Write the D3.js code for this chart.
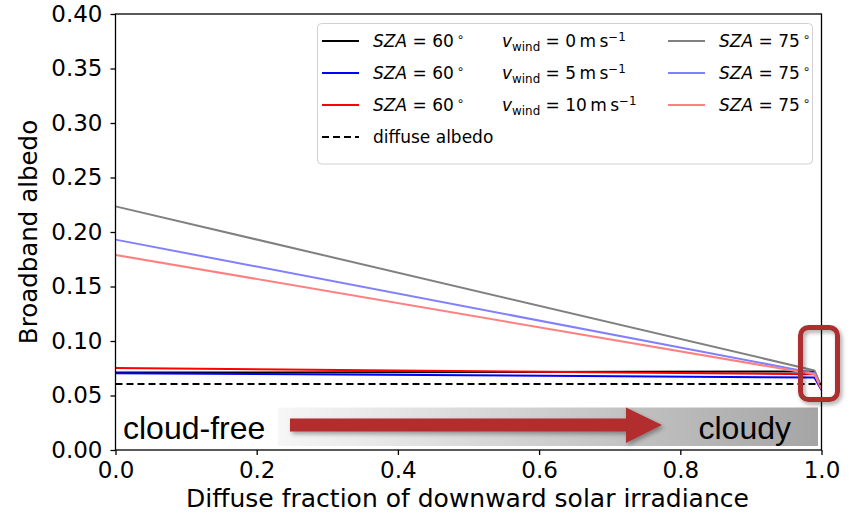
<!DOCTYPE html>
<html>
<head>
<meta charset="utf-8">
<script src="https://cdn.jsdelivr.net/npm/d3@7"></script>
<style>
  body { margin: 0; background: #fff; }
  svg { display: block; }
</style>
</head>
<body>
<svg id="chart" width="854" height="514"></svg>
<script>
// Diffuse fraction of downward solar irradiance (x positions of each series)
const diffuseFraction = [0, 0.99, 1.0];

// Broadband albedo, solar zenith angle 60°
const albedoSza60Wind0  = [0.0710, 0.0720, 0.0570];
const albedoSza60Wind5  = [0.0705, 0.0665, 0.0550];
const albedoSza60Wind10 = [0.0752, 0.0695, 0.0560];

// Broadband albedo, solar zenith angle 75°
const albedoSza75Wind0  = [0.2235, 0.0730, 0.0580];
const albedoSza75Wind5  = [0.1930, 0.0705, 0.0560];
const albedoSza75Wind10 = [0.1790, 0.0695, 0.0560];

// Albedo under purely diffuse illumination
const diffuseAlbedo = 0.0605;

const xTicks = [0, 0.2, 0.4, 0.6, 0.8, 1.0];
const yTicks = [0, 0.05, 0.10, 0.15, 0.20, 0.25, 0.30, 0.35, 0.40];
const windSpeeds = [0, 5, 10];

const svg = d3.select("#chart");
const plotLeft = 115.5, plotRight = 821.5, plotTop = 14, plotBottom = 450;

const x = d3.scaleLinear().domain([0, 1]).range([plotLeft, plotRight]);
const y = d3.scaleLinear().domain([0, 0.4]).range([plotBottom, plotTop]);

const FONT = "DejaVu Sans, sans-serif";

const defs = svg.append("defs");
defs.append("clipPath").attr("id", "plotClip")
  .append("rect").attr("x", plotLeft).attr("y", plotTop)
  .attr("width", plotRight - plotLeft).attr("height", plotBottom - plotTop);

const shadow = defs.append("filter").attr("id", "dropShadow")
  .attr("x", "-20%").attr("y", "-30%").attr("width", "150%").attr("height", "180%");
shadow.append("feDropShadow").attr("dx", 2).attr("dy", 2.5)
  .attr("stdDeviation", 2).attr("flood-color", "#000").attr("flood-opacity", 0.35);

const grad = defs.append("linearGradient").attr("id", "bandGrad")
  .attr("x1", "0%").attr("x2", "100%").attr("y1", "0%").attr("y2", "0%");
grad.append("stop").attr("offset", "0%").attr("stop-color", "#f7f7f7");
grad.append("stop").attr("offset", "100%").attr("stop-color", "#a5a5a5");

// Series lines
const series = [
  { values: albedoSza60Wind0,  color: "#000000" },
  { values: albedoSza60Wind5,  color: "#0000ff" },
  { values: albedoSza60Wind10, color: "#ff0000" },
  { values: albedoSza75Wind0,  color: "#808080" },
  { values: albedoSza75Wind5,  color: "#8080ff" },
  { values: albedoSza75Wind10, color: "#ff8080" }
];

const line = d3.line()
  .x((d, i) => x(diffuseFraction[i]))
  .y(d => y(d));

const plot = svg.append("g").attr("clip-path", "url(#plotClip)");
series.forEach(s => {
  plot.append("path")
    .datum(s.values)
    .attr("d", line)
    .attr("fill", "none")
    .attr("stroke", s.color)
    .attr("stroke-width", 2)
    .attr("stroke-linejoin", "round");
});

plot.append("path")
  .datum([0, 1])
  .attr("d", d3.line().x(d => x(d)).y(() => y(diffuseAlbedo)))
  .attr("fill", "none")
  .attr("stroke", "#000")
  .attr("stroke-width", 2)
  .attr("stroke-dasharray", "7,4");

// Axes
const xAxis = svg.append("g").attr("transform", `translate(0,${plotBottom})`)
  .call(d3.axisBottom(x).tickValues(xTicks).tickFormat(d3.format(".1f"))
    .tickSize(5).tickPadding(7));
const yAxis = svg.append("g").attr("transform", `translate(${plotLeft},0)`)
  .call(d3.axisLeft(y).tickValues(yTicks).tickFormat(d3.format(".2f"))
    .tickSize(5).tickPadding(8));

[xAxis, yAxis].forEach(a => {
  a.select(".domain").remove();
  a.selectAll(".tick line").attr("stroke", "#000").attr("stroke-width", 1.3);
  a.selectAll(".tick text").attr("font-family", FONT).attr("font-size", 23).attr("fill", "#000");
});

// Frame
svg.append("rect")
  .attr("x", plotLeft).attr("y", plotTop)
  .attr("width", plotRight - plotLeft).attr("height", plotBottom - plotTop)
  .attr("fill", "none").attr("stroke", "#000").attr("stroke-width", 1.3);

// Axis titles
svg.append("text")
  .attr("x", (plotLeft + plotRight) / 2 - 1).attr("y", 507)
  .attr("text-anchor", "middle")
  .attr("font-family", FONT).attr("font-size", 25)
  .text("Diffuse fraction of downward solar irradiance");

svg.append("text")
  .attr("transform", `translate(37,${(plotTop + plotBottom) / 2}) rotate(-90)`)
  .attr("text-anchor", "middle")
  .attr("font-family", FONT).attr("font-size", 24.5)
  .text("Broadband albedo");

// Legend
const legend = svg.append("g");
legend.append("rect")
  .attr("x", 317.5).attr("y", 23.5).attr("width", 495).attr("height", 140.5)
  .attr("rx", 4).attr("fill", "#fff").attr("fill-opacity", 0.85)
  .attr("stroke", "#d0d0d0").attr("stroke-width", 1);

const rowY = [41, 73, 105, 137];
const LFS = 17;

function szaLabel(g, xPos, yPos, angle) {
  const t = g.append("text").attr("x", xPos).attr("y", yPos)
    .attr("font-family", FONT).attr("font-size", LFS).attr("dy", "0.36em");
  t.append("tspan").attr("font-style", "italic").text("SZA");
  t.append("tspan").text(` = ${angle}`);
  t.append("tspan").attr("dx", 3).attr("font-size", LFS * 0.7).attr("dy", "-0.55em").text("∘");
}

function windLabel(g, xPos, yPos, v) {
  const t = g.append("text").attr("x", xPos).attr("y", yPos)
    .attr("font-family", FONT).attr("font-size", LFS).attr("dy", "0.36em");
  t.append("tspan").attr("font-style", "italic").text("v");
  t.append("tspan").attr("font-size", LFS * 0.7).attr("dy", "0.3em").text("wind");
  t.append("tspan").attr("dy", "-0.21em").text(` = ${v}\u2009m\u2009s`);
  t.append("tspan").attr("font-size", LFS * 0.7).attr("dy", "-0.55em").text("\u22121");
}

const col1Colors = series.slice(0, 3).map(s => s.color);
const col3Colors = series.slice(3, 6).map(s => s.color);

windSpeeds.forEach((v, i) => {
  const yy = rowY[i];
  legend.append("line").attr("x1", 322).attr("x2", 359).attr("y1", yy).attr("y2", yy)
    .attr("stroke", col1Colors[i]).attr("stroke-width", 2);
  szaLabel(legend, 373, yy, 60);
  windLabel(legend, 502, yy, v);
  legend.append("line").attr("x1", 668).attr("x2", 705).attr("y1", yy).attr("y2", yy)
    .attr("stroke", col3Colors[i]).attr("stroke-width", 2);
  szaLabel(legend, 719, yy, 75);
});

legend.append("line").attr("x1", 322).attr("x2", 359).attr("y1", rowY[3]).attr("y2", rowY[3])
  .attr("stroke", "#000").attr("stroke-width", 2).attr("stroke-dasharray", "7,4");
legend.append("text").attr("x", 373).attr("y", rowY[3]).attr("dy", "0.36em")
  .attr("font-family", FONT).attr("font-size", LFS).text("diffuse albedo");

// Cloud-free to cloudy band with arrow
const note = svg.append("g");
note.append("rect")
  .attr("x", 278).attr("y", 407.5).attr("width", 818 - 278).attr("height", 38.5)
  .attr("fill", "url(#bandGrad)");

const ARIAL = "Liberation Sans, Arial, Helvetica, sans-serif";
note.append("text").attr("x", 123).attr("y", 438.5)
  .attr("font-family", ARIAL).attr("font-size", 32).attr("fill", "#000")
  .text("cloud-free");
note.append("text").attr("x", 791).attr("y", 438.5).attr("text-anchor", "end")
  .attr("font-family", ARIAL).attr("font-size", 32).attr("fill", "#000")
  .text("cloudy");

const arrowPts = [
  [290, 418.5], [626, 418.5], [626, 407.5], [662, 425],
  [626, 443], [626, 431.5], [290, 431.5]
];
note.append("path")
  .attr("d", d3.line()(arrowPts) + "Z")
  .attr("fill", "#b22e2e")
  .attr("filter", "url(#dropShadow)");

// Highlight box around the sharp drop at full diffuse fraction
note.append("rect")
  .attr("x", 800.5).attr("y", 327.5).attr("width", 37).attr("height", 72)
  .attr("rx", 8).attr("fill", "none")
  .attr("stroke", "#ad2d2d").attr("stroke-width", 5)
  .attr("filter", "url(#dropShadow)");
</script>
</body>
</html>
